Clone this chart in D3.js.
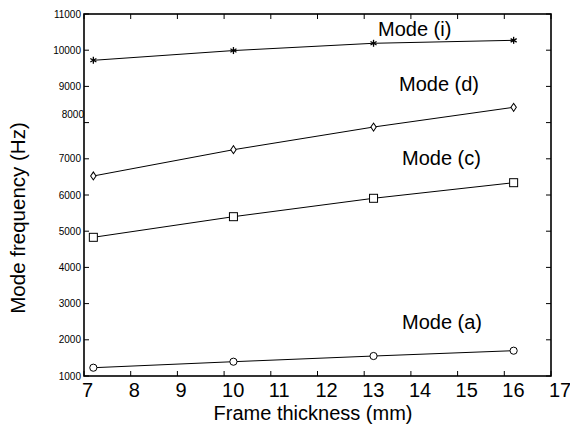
<!DOCTYPE html>
<html><head><meta charset="utf-8">
<script src="https://cdn.jsdelivr.net/npm/d3@7"></script>
<style>body{margin:0;background:#fff}svg{display:block}text{font-family:"Liberation Sans",Arial,sans-serif;fill:#000}</style>
</head><body><svg id="c" width="570" height="427"></svg>
<script>
const thickness = [7.2, 10.2, 13.2, 16.2];
const modeA = [1229, 1395, 1552, 1699];
const modeC = [4831, 5401, 5909, 6340];
const modeD = [6525, 7251, 7878, 8423];
const modeI = [9721, 9990, 10191, 10273];
const xTicks = [7, 8, 9, 10, 11, 12, 13, 14, 15, 16, 17];
const yTicks = [1000, 2000, 3000, 4000, 5000, 6000, 7000, 8000, 9000, 10000, 11000];
const seriesNames = ["Mode (a)", "Mode (c)", "Mode (d)", "Mode (i)"];

const svg = d3.select("#c");
const L = 84, R = 551, T = 14, B = 376;
const x = d3.scaleLinear().domain([7, 17]).range([L, R]);
const y = d3.scaleLinear().domain([1000, 11000]).range([B, T]);

// ticks (inside, all four sides)
const tk = 5;
const g = svg.append("g").attr("stroke", "#000").attr("stroke-width", 1);
xTicks.forEach(v => {
  g.append("line").attr("x1", x(v)).attr("x2", x(v)).attr("y1", B).attr("y2", B - tk);
  g.append("line").attr("x1", x(v)).attr("x2", x(v)).attr("y1", T).attr("y2", T + tk);
});
yTicks.forEach(v => {
  g.append("line").attr("x1", L).attr("x2", L + tk).attr("y1", y(v)).attr("y2", y(v));
  g.append("line").attr("x1", R).attr("x2", R - tk).attr("y1", y(v)).attr("y2", y(v));
});
svg.append("rect").attr("x", L).attr("y", T).attr("width", R - L).attr("height", B - T)
  .attr("fill", "none").attr("stroke", "#000").attr("stroke-width", 1.6);

// tick labels
svg.append("g").selectAll("text").data(xTicks).join("text")
  .attr("x", d => x(d) - 2).attr("y", 397).attr("font-size", 20)
  .attr("text-anchor", "start").text(d => d);
svg.append("g").selectAll("text").data(yTicks).join("text")
  .attr("x", d => d === 8000 ? 84 : 81)
  .attr("y", d => d === 8000 ? y(d) - 5 : y(d) + 3.5)
  .attr("font-size", 10).attr("text-anchor", "end").text(d => d);

// axis titles
svg.append("text").attr("x", 313).attr("y", 420).attr("font-size", 20)
  .attr("text-anchor", "middle").text("Frame thickness (mm)");
svg.append("text").attr("transform", "translate(25,218) rotate(-90)").attr("font-size", 20.5)
  .attr("text-anchor", "middle").text("Mode frequency (Hz)");

// series
const line = d3.line().x((d, i) => x(thickness[i])).y(d => y(d));
[modeA, modeC, modeD, modeI].forEach(s => {
  svg.append("path").attr("d", line(s)).attr("fill", "none").attr("stroke", "#000").attr("stroke-width", 1);
});
const mk = svg.append("g").attr("fill", "none").attr("stroke", "#000").attr("stroke-width", 1);
modeA.forEach((v, i) => mk.append("circle").attr("cx", x(thickness[i])).attr("cy", y(v)).attr("r", 3.6).attr("fill", "#fff"));
modeC.forEach((v, i) => mk.append("rect").attr("x", x(thickness[i]) - 4).attr("y", y(v) - 4).attr("width", 8).attr("height", 8).attr("fill", "#fff"));
modeD.forEach((v, i) => mk.append("path").attr("d", d3.symbol().type(d3.symbolSquare2).size(26)())
  .attr("transform", `translate(${x(thickness[i])},${y(v)}) scale(0.85,1.25) rotate(45)`).attr("fill", "#fff"));
const starG = svg.append("g").attr("stroke", "#000").attr("stroke-width", 1.3);
modeI.forEach((v, i) => {
  const cx = x(thickness[i]), cy = y(v);
  [0, 60, 120].forEach(a => {
    const r = 3.5, rad = a * Math.PI / 180;
    starG.append("line").attr("x1", cx - r * Math.sin(rad)).attr("x2", cx + r * Math.sin(rad))
      .attr("y1", cy - r * Math.cos(rad)).attr("y2", cy + r * Math.cos(rad));
  });
});

// annotations
const annPos = [[402, 329], [402, 165], [399, 91], [378, 36]];
seriesNames.forEach((n, i) => svg.append("text").attr("x", annPos[i][0]).attr("y", annPos[i][1])
  .attr("font-size", 20).text(n));
</script></body></html>
